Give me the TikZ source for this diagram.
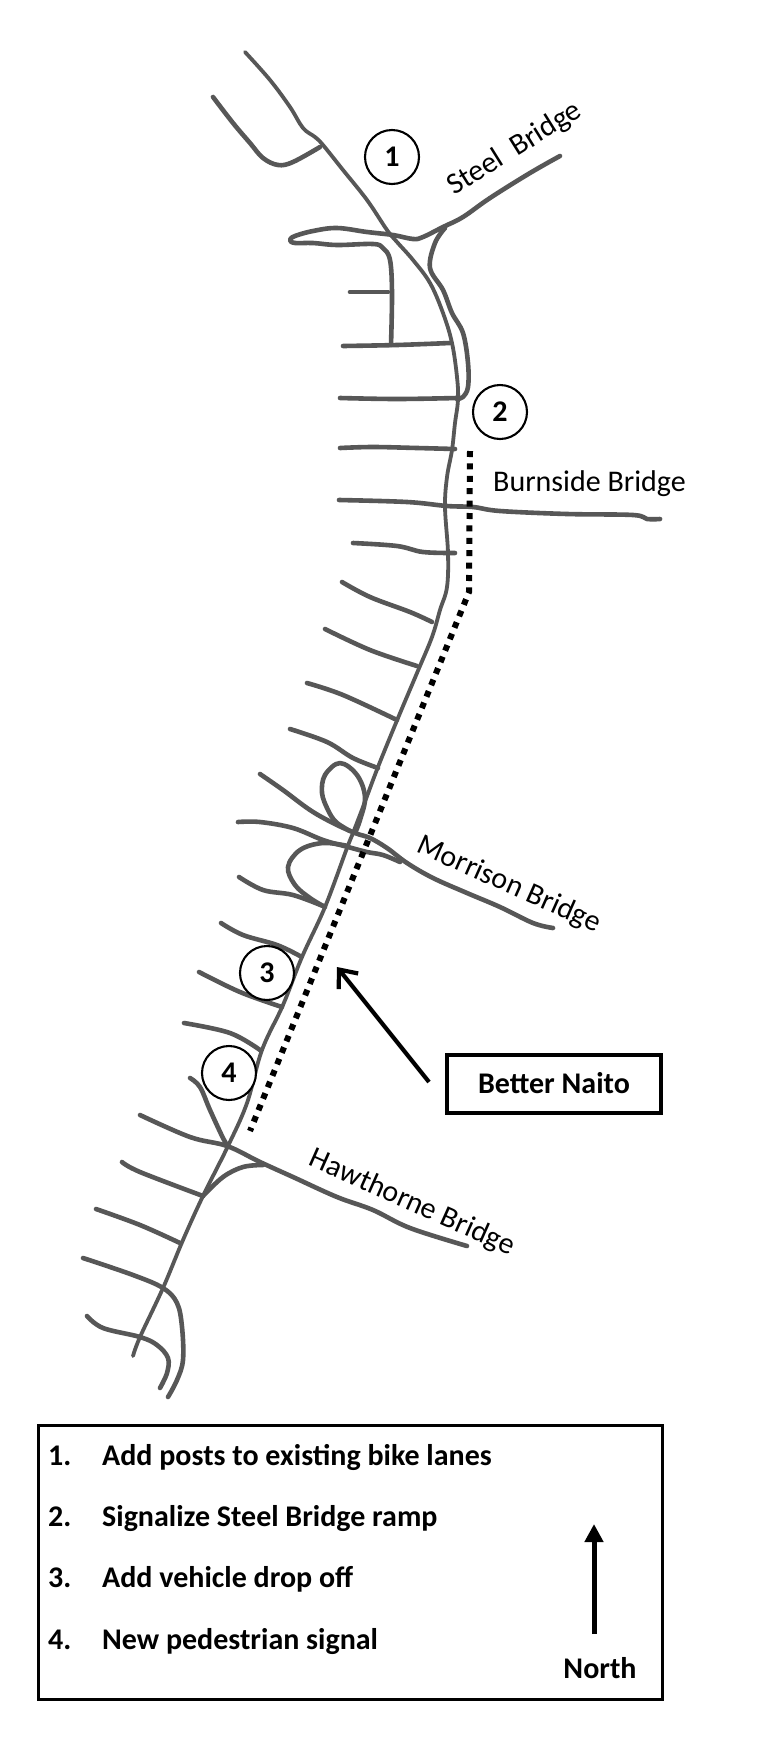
\documentclass[tikz,border=0pt]{standalone}
\usepackage{fontspec}
\setmainfont{Carlito}
\usetikzlibrary{arrows.meta}
\tikzset{
  road/.style={draw=black!66,line width=4.6pt,line cap=round,line join=round,smooth,tension=0.6},
  main/.style={road,line width=3.8pt},
  num/.style={circle,draw=black,fill=white,line width=2.1pt,minimum size=54pt,inner sep=0pt,font=\fontsize{30}{30}\selectfont\bfseries},
  lab/.style={font=\fontsize{30}{30}\selectfont,inner sep=0pt},
  legend/.style={font=\fontsize{30}{30}\selectfont\bfseries,inner sep=0pt,anchor=base west}
}
\begin{document}
\begin{tikzpicture}[x=1pt,y=-1pt]
\useasboundingbox (0,0) rectangle (770,1751);
\fill[white] (0,0) rectangle (770,1751);
% main road
\draw[main] plot coordinates {(245,52)(270,80)(290,107)(303,128)(315,137)(323,145)(343,170)(367,200)(387,230)(397,242)(413,260)(430,283)(443,313)(452,343)(457,377)(458,400)(455,423)(452,450)(447,477)(445,507)(448,553)(447,587)(440,610)(432,637)(417,673)(398,718)(378,767)(363,807)(353,833)(347,848)(325,907)(302,957)(283,1005)(262,1050)(247,1103)(228,1146)(203,1196)(183,1240)(163,1288)(140,1337)(133,1356)};
\draw[road] plot coordinates {(213,97)(233,123)(250,143)(263,158)(278,165)(293,162)(320,147)};
% Steel Bridge and ramp
\draw[road] plot coordinates {(560,156)(530,173)(490,198)(463,217)(443,227)(423,237)(413,239)(393,235)(367,232)(337,228)(313,231)(295,236)(290,240)(295,243)(313,243)(337,245)(373,244)(383,248)(390,260)(392,293)(391,345)};
\draw[road] plot coordinates {(445,228)(435,243)(430,268)(443,290)(452,313)(463,333)(468,363)(468,387)(463,397)(457,399)};
% side streets
\draw[road] plot coordinates {(350,292)(370,292)(388,292)};
\draw[road] plot coordinates {(343,346)(397,345)(450,343)};
\draw[road] plot coordinates {(340,398)(397,399)(457,398)};
\draw[road] plot coordinates {(340,448)(373,447)(417,448)(455,449)};
\draw[road] plot coordinates {(339,500)(407,502)(447,506)(473,507)(500,511)(567,514)(633,515)(647,519)(660,519)};
\draw[road] plot coordinates {(353,543)(397,546)(423,552)(455,553)};
\draw[road] plot coordinates {(342,582)(370,597)(410,612)(432,622)};
\draw[road] plot coordinates {(325,629)(370,650)(417,666)};
\draw[road] plot coordinates {(307,683)(343,695)(397,720)};
\draw[road] plot coordinates {(290,729)(327,742)(353,758)(378,768)};
% Morrison area
\draw[road] plot coordinates {(260,774)(283,790)(310,810)(333,823)(355,833)(370,838)(387,848)(407,863)(433,878)(467,893)(500,907)(533,923)(553,928)};
\draw[road] plot coordinates {(350,831)(336,822)(328,810)(322,793)(325,775)(340,763)(357,775)(365,797)(360,820)(355,833)};
\draw[road] plot coordinates {(238,822)(260,822)(293,828)(323,840)(348,847)(367,852)(383,855)(400,862)};
\draw[road] plot coordinates {(348,846)(323,843)(300,850)(288,867)(295,885)(310,898)(325,907)};
\draw[road] plot coordinates {(239,877)(263,890)(293,895)(323,906)};
\draw[road] plot coordinates {(221,923)(243,935)(277,945)(300,956)};
\draw[road] plot coordinates {(199,972)(240,992)(282,1007)};
\draw[road] plot coordinates {(184,1023)(230,1033)(260,1050)};
% Hawthorne area
\draw[road] plot coordinates {(190,1078)(200,1087)(210,1110)(223,1138)(228,1146)};
\draw[road] plot coordinates {(140,1115)(190,1137)(227,1146)(260,1162)(293,1177)(337,1197)(373,1210)(410,1228)(467,1246)};
\draw[road] plot coordinates {(122,1162)(140,1172)(203,1196)};
\draw[road] plot coordinates {(203,1196)(223,1177)(243,1167)(263,1165)};
\draw[road] plot coordinates {(96,1209)(140,1225)(180,1243)};
\draw[road] plot coordinates {(83,1258)(133,1275)(163,1288)(177,1303)(182,1327)(183,1360)(177,1380)(168,1397)};
\draw[road] plot coordinates {(87,1316)(103,1328)(140,1337)(157,1345)(168,1358)(167,1373)(160,1388)};
% Better Naito dotted line
\draw[line width=6pt,dash pattern=on 6pt off 6.4pt] (470,451) -- (469,592) -- (250,1131);
% numbered circles
\node[num] (n1) at (392,157) {1};
\node[num] (n2) at (500,412) {2};
\node[num] (n3) at (267,973) {3};
\node[num] (n4) at (229,1073) {4};
% labels
\node[lab,rotate=32] (steel) at (515,149) {Steel\ \ Bridge};
\node[lab,anchor=west] (burn) at (493,484) {Burnside Bridge};
\node[lab,rotate=-24] (morr) at (509,885) {Morrison Bridge};
\node[lab,rotate=-24] (hawt) at (412,1203) {Hawthorne Bridge};
% Better Naito box and arrow
\node[draw=black,line width=4pt,minimum width=214pt,minimum height=58pt,inner sep=0pt,font=\fontsize{30}{30}\selectfont\bfseries] (bn) at (554,1083.5) {Better Naito};
\coordinate (bnfrom) at (429,1082);
\coordinate (bnto) at (337,967);
\draw[line width=4.2pt,-{Straight Barb[length=15pt,width=25pt,line width=4.2pt]}] (bnfrom) -- (bnto);
% legend
\node[draw=black,line width=3pt,minimum width=624pt,minimum height=274pt,inner sep=0pt] (leg) at (350,1562.5) {};
\node[legend] (l1n) at (48,1465) {1.};
\node[legend] (l1) at (102,1465) {Add posts to existing bike lanes};
\node[legend] (l2n) at (48,1526) {2.};
\node[legend] (l2) at (102,1526) {Signalize Steel Bridge ramp};
\node[legend] (l3n) at (48,1587) {3.};
\node[legend] (l3) at (102,1587) {Add vehicle drop off};
\node[legend] (l4n) at (48,1649) {4.};
\node[legend] (l4) at (102,1649) {New pedestrian signal};
\node[legend,anchor=base] (north) at (600,1678) {North};
\coordinate (nfrom) at (594,1634);
\coordinate (nto) at (594,1524);
\draw[line width=5pt,-{Triangle[length=18pt,width=18pt]}] (nfrom) -- (nto);
\end{tikzpicture}
\end{document}
